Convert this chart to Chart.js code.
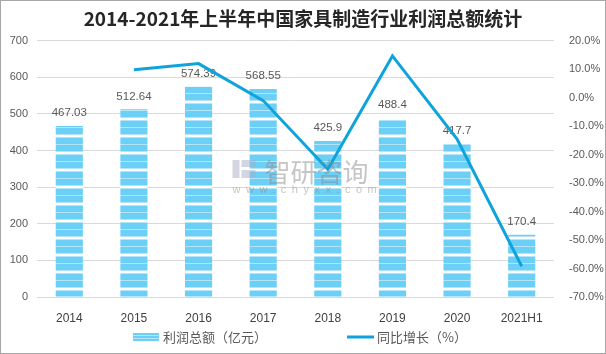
<!DOCTYPE html>
<html>
<head>
<meta charset="utf-8">
<script src="https://cdn.jsdelivr.net/npm/chart.js@4/dist/chart.umd.min.js"></script>
<style>
	html, body { margin:0; padding:0; background:#fff; }
	#box { position:relative; width:606px; height:354px; }
</style>
</head>
<body>
<div id="box"><canvas id="c" width="606" height="354"></canvas></div>
<script>
const categories = ['2014', '2015', '2016', '2017', '2018', '2019', '2020', '2021H1'];
const profit = [467.03, 512.64, 574.39, 568.55, 425.9, 488.4, 417.7, 170.4];
const growth = [null, 9.8, 12.0, -1.0, -25.1, 14.7, -14.5, -59.2];
const leftTicks = [0, 700, 100];
const rightTicks = [-70, 20, 10];
const seriesNames = ['利润总额（亿元）', '同比增长（%）'];

const CN = '"Noto Sans CJK SC", "Microsoft YaHei", sans-serif';
const NUM = '"Liberation Sans", Arial, sans-serif';
const BLUE = '#6ccff6', LIGHT = '#b3e5fa', LINE = '#0fa3dc';

// horizontal stripes like the excel picture fill
const stripe = () => {
	const c = document.createElement('canvas');
	c.width = 1; c.height = 17;
	const g = c.getContext('2d');
	const rows = ['#fff','#fff',LIGHT,BLUE,BLUE,BLUE,BLUE,BLUE,BLUE,LIGHT,BLUE,BLUE,BLUE,BLUE,BLUE,BLUE,LIGHT];
	rows.forEach((r, i) => { g.fillStyle = r; g.fillRect(0, i, 1, 1); });
	const p = g.createPattern(c, 'repeat');
	p.setTransform(new DOMMatrix([1, 0, 0, 1, 0, 16]));
	return p;
};
const pat = stripe();

const barLabels = {
	id: 'barLabels',
	afterDatasetDraw(chart, args) {
		if (args.index !== 0) return;
		const ctx = chart.ctx;
		ctx.save();
		ctx.font = '11.5px ' + NUM;
		ctx.fillStyle = '#595959';
		ctx.textAlign = 'center';
		ctx.textBaseline = 'middle';
		args.meta.data.forEach((b, i) => ctx.fillText(String(profit[i]), b.x, b.y - 13));
		ctx.restore();
	}
};

const extras = {
	id: 'extras',
	afterDatasetsDraw(chart) {
		// watermark
		const ctx = chart.ctx, a = chart.chartArea;
		const cx = (a.left + a.right) / 2, cy = 172;
		ctx.save();
		ctx.globalAlpha = 0.5;
		ctx.fillStyle = '#8c8c8c';
		ctx.font = '26px ' + CN;
		ctx.textAlign = 'left';
		ctx.textBaseline = 'middle';
		ctx.fillText('智研咨询', cx - 31, cy);
		ctx.font = '11px ' + NUM;
		ctx.letterSpacing = '5.5px';
		ctx.fillText('www.chyxx.com', cx - 63, cy + 18);
		ctx.letterSpacing = '0px';
		ctx.fillStyle = '#a3aec6';
		ctx.fillRect(cx - 63, cy - 12, 7, 18);
		ctx.fillRect(cx - 54, cy - 12, 14, 7);
		ctx.fillRect(cx - 54, cy - 2, 14, 8);
		ctx.restore();
	},
	afterDraw(chart) {
		const ctx = chart.ctx;
		ctx.save();
		// legend
		ctx.font = '13px ' + CN;
		const s = chart.width / 2 - 170, y = 337;
		ctx.fillStyle = BLUE; ctx.fillRect(s, y - 4, 26, 2);
		ctx.fillStyle = LIGHT; ctx.fillRect(s, y - 2, 26, 1);
		ctx.fillStyle = BLUE; ctx.fillRect(s, y - 1, 26, 2);
		ctx.fillStyle = LIGHT; ctx.fillRect(s, y + 1, 26, 1);
		ctx.fillStyle = BLUE; ctx.fillRect(s, y + 2, 26, 2);
		ctx.fillStyle = '#595959';
		ctx.textBaseline = 'middle';
		ctx.fillText(seriesNames[0], s + 30, y);
		ctx.strokeStyle = LINE; ctx.lineWidth = 3;
		ctx.beginPath(); ctx.moveTo(s + 214, y); ctx.lineTo(s + 241, y); ctx.stroke();
		ctx.fillText(seriesNames[1], s + 244, y);
		// outer frame
		ctx.strokeStyle = '#a6a6a6'; ctx.lineWidth = 1;
		ctx.strokeRect(0.5, 0.5, chart.width - 1, chart.height - 1);
		ctx.restore();
	}
};

new Chart(document.getElementById('c'), {
	data: {
		labels: categories,
		datasets: [{
			type: 'bar',
			label: seriesNames[0],
			data: profit,
			backgroundColor: pat,
			yAxisID: 'y',
			order: 1,
			categoryPercentage: 1,
			barPercentage: 0.42,
		}, {
			type: 'line',
			label: seriesNames[1],
			data: growth,
			borderColor: LINE,
			borderWidth: 3,
			pointRadius: 0,
			tension: 0,
			yAxisID: 'y1',
			order: 0,
		}]
	},
	options: {
		responsive: false,
		animation: false,
		layout: { padding: { left: 0, right: 0, top: 0, bottom: 27 } },
		plugins: {
			legend: { display: false },
			tooltip: { enabled: false },
			title: {
				display: true,
				text: '2014-2021年上半年中国家具制造行业利润总额统计',
				color: '#262626',
				font: { family: CN, size: 19, weight: 'bold' },
				padding: { top: 7, bottom: 11 },
			},
		},
		scales: {
			x: {
				grid: { display: false },
				border: { display: false },
				ticks: { color: '#404040', font: { family: NUM, size: 12 }, padding: 6 },
				afterFit: s => { s.height = 30; },
			},
			y: {
				position: 'left',
				min: leftTicks[0], max: leftTicks[1],
				ticks: { stepSize: leftTicks[2], color: '#595959', font: { family: NUM, size: 11 }, padding: 9 },
				grid: { color: '#d9d9d9', drawTicks: false },
				border: { display: false },
				afterFit: s => { s.width = 37; },
			},
			y1: {
				position: 'right',
				min: rightTicks[0], max: rightTicks[1],
				ticks: {
					stepSize: rightTicks[2], color: '#595959', font: { family: NUM, size: 11 }, padding: 7,
					callback: v => v.toFixed(1) + '%',
				},
				grid: { display: false },
				border: { display: false },
				afterFit: s => { s.width = 52; },
			},
		},
	},
	plugins: [barLabels, extras],
});
</script>
</body>
</html>
